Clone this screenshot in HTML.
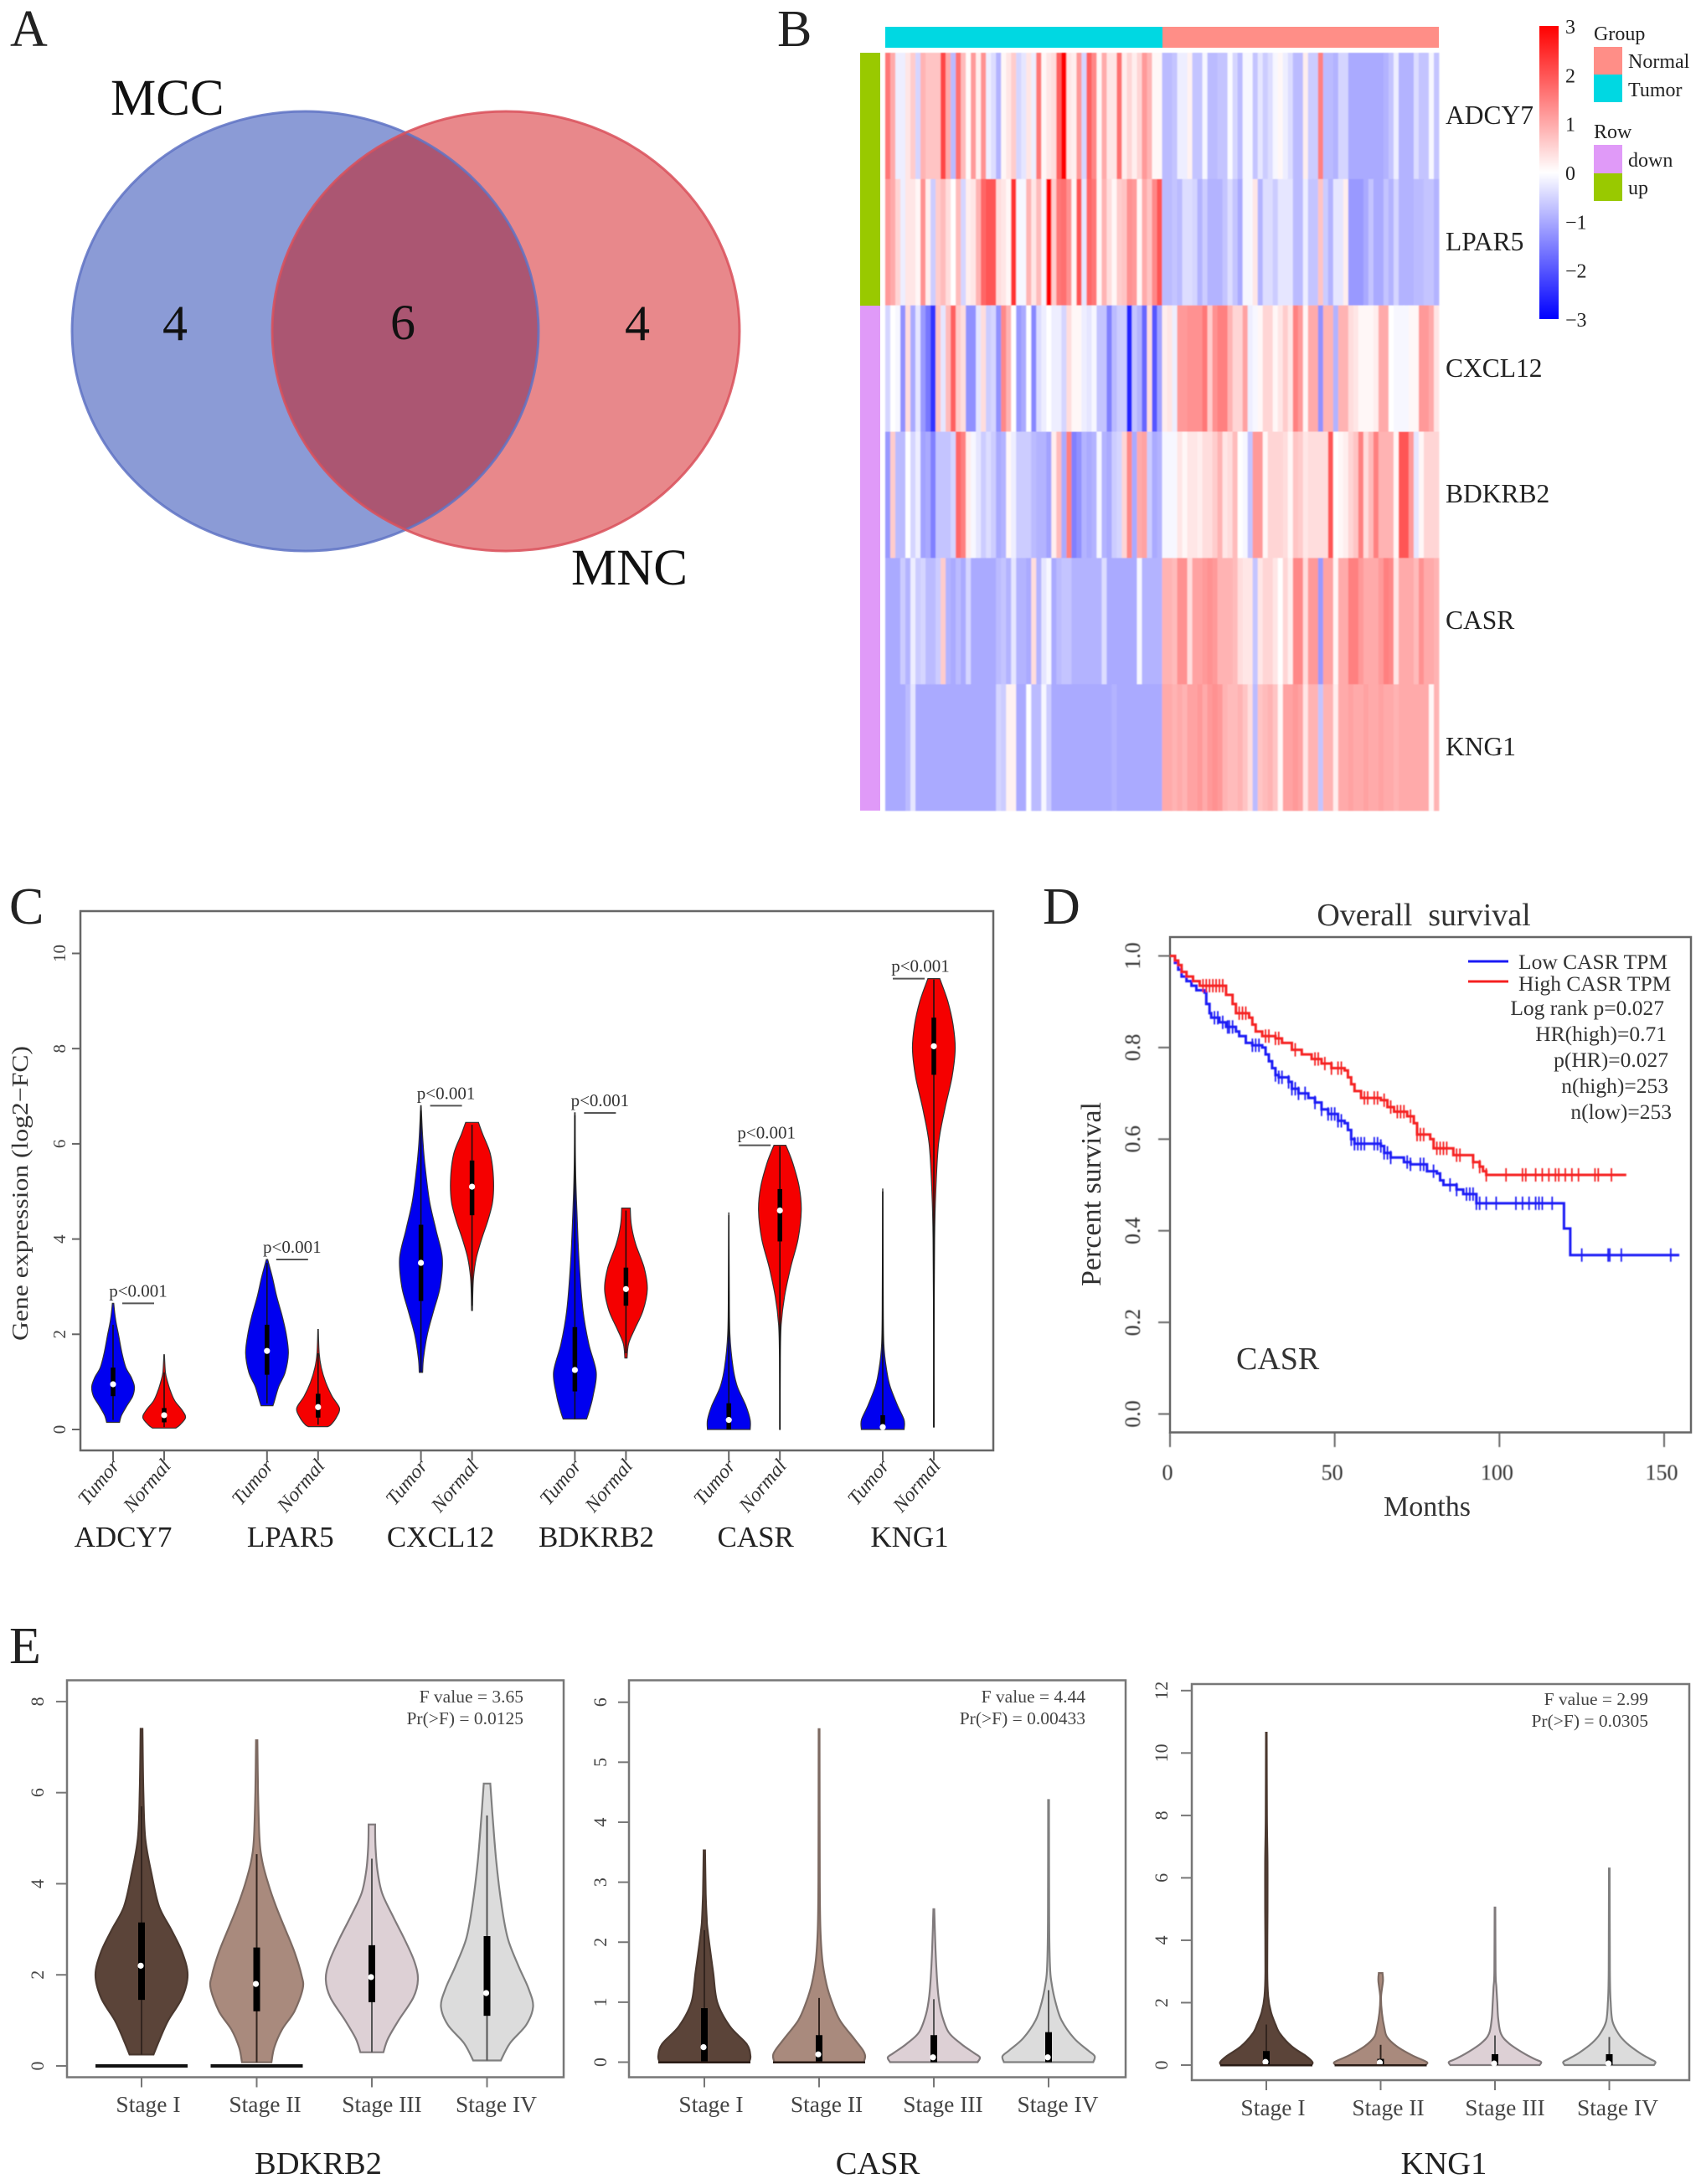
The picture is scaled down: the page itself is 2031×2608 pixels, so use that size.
<!DOCTYPE html>
<html lang="en">
<head>
<meta charset="utf-8">
<title>Multi-panel gene expression figure</title>
<style>
html,body{margin:0;padding:0;background:#fff;width:2031px;height:2608px;overflow:hidden}
svg{display:block;font-family:"Liberation Serif",serif}
text{fill:#222}
</style>
</head>
<body>
<svg id="fig" xmlns="http://www.w3.org/2000/svg" width="2031" height="2608" viewBox="0 0 2031 2608">
<defs>
<clipPath id="venn-left-clip"><ellipse cx="364.5" cy="395.5" rx="278.5" ry="262.5"/></clipPath>
<filter id="soft-blur" x="-1%" y="-1%" width="102%" height="102%"><feGaussianBlur stdDeviation="0.9 0.4"/></filter>
<filter id="line-blur" x="-2%" y="-2%" width="104%" height="104%"><feGaussianBlur stdDeviation="0.45"/></filter>
<linearGradient id="colorbar-gradient" x1="0" y1="0" x2="0" y2="1">
<stop offset="0" stop-color="#ff0000"/><stop offset="0.5" stop-color="#ffffff"/><stop offset="1" stop-color="#0000ff"/>
</linearGradient>
</defs>
<rect width="2031" height="2608" fill="#fff"/>

<!-- Panel letters -->
<text x="12" y="55" font-size="62">A</text>
<text x="928" y="55" font-size="62">B</text>
<text x="11" y="1103" font-size="62">C</text>
<text x="1245" y="1103" font-size="62">D</text>
<text x="11" y="1986" font-size="62">E</text>

<!-- Panel A Venn -->
<g>
<ellipse cx="364.5" cy="395.5" rx="278.5" ry="262.5" fill="#8b9bd6"/>
<ellipse cx="604" cy="395.5" rx="279" ry="262.5" fill="#e8888b"/>
<ellipse cx="604" cy="395.5" rx="279" ry="262.5" fill="#ab5672" clip-path="url(#venn-left-clip)"/>
<ellipse cx="364.5" cy="395.5" rx="278.5" ry="262.5" fill="none" stroke="#5f73c4" stroke-opacity="0.85" stroke-width="3"/>
<ellipse cx="604" cy="395.5" rx="279" ry="262.5" fill="none" stroke="#d9505a" stroke-opacity="0.85" stroke-width="3"/>
<text x="132" y="137" font-size="61" style="fill:#111">MCC</text>
<text x="682" y="698" font-size="61" style="fill:#111">MNC</text>
<text x="209" y="406" font-size="60" text-anchor="middle" style="fill:#111">4</text>
<text x="481" y="405" font-size="60" text-anchor="middle" style="fill:#111">6</text>
<text x="761" y="406" font-size="60" text-anchor="middle" style="fill:#111">4</text>
</g>

<!-- Panel B Heatmap -->
<g>
<rect x="1057" y="32" width="331" height="25" fill="#00d8e2"/>
<rect x="1388" y="32" width="330" height="25" fill="#ff8e87"/>
<rect x="1027" y="63" width="24" height="302" fill="#99c900"/>
<rect x="1027" y="365" width="24" height="603" fill="#e09af8"/>
<g id="heatmap-cells" filter="url(#soft-blur)"></g>
<text x="1726" y="148" font-size="31.5">ADCY7</text>
<text x="1726" y="299" font-size="31.5">LPAR5</text>
<text x="1726" y="450" font-size="31.5">CXCL12</text>
<text x="1726" y="600" font-size="31.5">BDKRB2</text>
<text x="1726" y="751" font-size="31.5">CASR</text>
<text x="1726" y="902" font-size="31.5">KNG1</text>
<rect x="1838" y="31" width="23" height="350" fill="url(#colorbar-gradient)"/>
<g id="colorbar-ticks"></g>
<text x="1903" y="48" font-size="24">Group</text>
<rect x="1903" y="56" width="34" height="33" fill="#ff8e87"/>
<rect x="1903" y="89" width="34" height="33" fill="#00d8e2"/>
<text x="1944" y="81" font-size="24">Normal</text>
<text x="1944" y="115" font-size="24">Tumor</text>
<text x="1903" y="165" font-size="24">Row</text>
<rect x="1903" y="173" width="34" height="34" fill="#e09af8"/>
<rect x="1903" y="207" width="34" height="33" fill="#99c900"/>
<text x="1944" y="199" font-size="24">down</text>
<text x="1944" y="232" font-size="24">up</text>
</g>

<!-- Panel C -->
<g>
<rect x="96" y="1088" width="1090" height="644" fill="none" stroke="#666" stroke-width="2.5"/>
<text transform="translate(33,1425) rotate(-90)" font-size="27" text-anchor="middle" textLength="352" lengthAdjust="spacingAndGlyphs" style="fill:#333">Gene expression (log2−FC)</text>
<g id="panel-c"></g>
</g>

<!-- Panel D -->
<g>
<text x="1700" y="1105" font-size="38" text-anchor="middle" style="fill:#333;white-space:pre">Overall  survival</text>
<rect x="1397" y="1119" width="622" height="591.5" fill="none" stroke="#666" stroke-width="2.5"/>
<text transform="translate(1314,1426) rotate(-90)" font-size="34" text-anchor="middle" style="fill:#333">Percent survival</text>
<text x="1704" y="1810" font-size="34" text-anchor="middle" style="fill:#333">Months</text>
<text x="1476" y="1635" font-size="38" style="fill:#333">CASR</text>
<g id="panel-d" filter="url(#line-blur)"></g>
<line x1="1753" x2="1801" y1="1148" y2="1148" stroke="#1a1af5" stroke-width="3"/>
<line x1="1753" x2="1801" y1="1172" y2="1172" stroke="#f52020" stroke-width="3"/>
<g font-size="25.5" style="fill:#333">
<text x="1813" y="1157" style="fill:#333">Low CASR TPM</text>
<text x="1813" y="1183" style="fill:#333">High CASR TPM</text>
<text x="1987" y="1212" text-anchor="end" style="fill:#333">Log rank p=0.027</text>
<text x="1990" y="1243" text-anchor="end" style="fill:#333">HR(high)=0.71</text>
<text x="1992" y="1274" text-anchor="end" style="fill:#333">p(HR)=0.027</text>
<text x="1992" y="1305" text-anchor="end" style="fill:#333">n(high)=253</text>
<text x="1996" y="1336" text-anchor="end" style="fill:#333">n(low)=253</text>
</g>
</g>

<!-- Panel E -->
<g>
<rect x="80" y="2006.5" width="593" height="474" fill="none" stroke="#777" stroke-width="2.5"/>
<rect x="751" y="2006.5" width="593" height="474" fill="none" stroke="#777" stroke-width="2.5"/>
<rect x="1423" y="2011" width="594" height="473" fill="none" stroke="#777" stroke-width="2.5"/>
<g id="panel-e"></g>
<g font-size="21.5" text-anchor="end">
<text x="625" y="2033" style="fill:#444">F value = 3.65</text>
<text x="625" y="2059" style="fill:#444">Pr(&gt;F) = 0.0125</text>
<text x="1296" y="2033" style="fill:#444">F value = 4.44</text>
<text x="1296" y="2059" style="fill:#444">Pr(&gt;F) = 0.00433</text>
<text x="1968" y="2036" style="fill:#444">F value = 2.99</text>
<text x="1968" y="2062" style="fill:#444">Pr(&gt;F) = 0.0305</text>
</g>
<g font-size="38.5" text-anchor="middle">
<text x="380" y="2596">BDKRB2</text>
<text x="1048" y="2596">CASR</text>
<text x="1724" y="2596">KNG1</text>
</g>
</g>

<script>
// ---------- Heatmap data (z-scores; 55 tumor columns then 55 normal columns) ----------
const hmAdcy7 = [1.6,1,-.2,-.2,.3,.6,-.5,.9,.7,.7,.7,2.2,1,-.8,1.7,.8,.05,1.2,.2,1.3,-.2,-.4,-.9,.1,.3,.6,-.5,-.3,.3,-.2,1.6,.1,.3,.4,1.9,3,.3,.2,1.2,-.5,1.9,1.4,.1,1,.3,.3,1.7,.2,.5,.2,.5,1.2,.9,.1,.1,
-.8,-.8,-.7,-.2,-.2,.15,-.7,-.7,-.1,-.8,-.8,-.7,-.7,-.05,-.5,-.8,-.1,-.1,-.7,-.3,-.6,-.4,-.1,.1,-.2,-.4,-.8,-.8,.2,-.6,-.6,1.5,-.8,-.8,-.9,-.5,-.5,-1,-1,-1,-1,-1,-1,-1,-.9,-.7,-.2,-.9,-.9,-.9,-.4,-.7,-.7,-.1,-.7];
const hmLpar5 = [1.2,1,.5,-.2,.3,.3,.1,1.3,.2,-.6,.6,.8,.4,0,.8,-.5,.2,.3,.9,1.8,2,2,.4,.3,.1,2.4,-.1,-.1,.9,.3,.8,-.1,3,.6,1.6,1.7,1.3,.1,2,-.3,1.8,1.6,.1,.9,.4,.1,.6,.7,1.3,1.2,.1,1,.7,1.4,2,
-.8,-.8,-.7,-.8,-.4,-.4,-.5,-.9,-.6,-.9,-.9,-.9,-.7,-.4,-.7,-1,-.1,-.1,.3,-.9,-.4,-.4,-.6,-.3,-.3,-.3,-.8,-.8,-.2,-.7,-.7,.7,-.6,-.9,-.3,-.3,.2,-1.2,-1.2,-1.2,-1,-.7,-1,-1,-.7,-.9,-.5,-.9,-.9,-.9,-.8,-.8,-.7,-.7,-.9];
const hmCxcl12 = [-.5,0,-.1,-1.3,.4,-1,-.3,-1.2,-1.6,-2.4,.7,-.3,.8,1.9,.6,.4,-1.3,-1.3,-.3,.4,-.6,-.5,-1.3,1.4,.9,0,-1.2,-1,0,-1.4,-.4,-.2,0,-.2,-.2,-.5,.4,.1,.1,-.2,-.3,-.1,-.7,-.7,-1.5,-.8,-.6,-.6,-2.6,-.7,-.9,-1.8,.4,-2,-1.1,
.2,.3,-.2,1.2,1.2,1.3,1.3,1.3,1.6,.6,1.3,1.5,1.5,.9,.5,.5,1.1,-.2,-.1,.1,.5,.5,.1,.3,.6,.3,1.5,1.2,.1,1,1,-1.3,.9,.9,-.9,.9,.9,.4,.3,.1,.1,.1,.2,1,1,0,-.1,-.1,-.1,.1,.1,1.2,1.2,1,.3];
const hmBdkrb2 = [-1.2,.6,-.8,-.8,0,-.5,-.2,-1.1,-1,-1.5,-.7,-.7,-.7,-.5,1.8,1.5,.2,-.1,-.3,-.6,-.4,-.6,-1,-.9,.1,-.2,-.6,-.6,-.6,-.8,-.9,-.9,-1.1,.2,.8,-1,1.5,-1.5,-1.3,-.9,-1,-.9,-.1,-.9,-1,-.6,-.5,.5,1.4,-1,1,1.1,-.6,-1,-.9,
-.1,-.1,-.1,.3,.1,.3,.3,.2,.4,.4,.6,.9,.3,.4,.8,0,-.1,-.7,1.2,1.2,.1,.5,.5,.5,.4,.1,.7,.6,.3,.4,.4,.4,.4,2,0,.1,.2,.5,.7,1.5,.4,.8,1.5,.9,.9,.9,.1,2,2,1.2,-.3,.1,.5,.5,.5];
const hmCasr = [-1,-1,-1,-.6,-.9,-.2,-.6,-.5,-.8,-.8,-.6,.6,-.9,-1,-.8,-1,-.5,-1,-1,-1,-1,-1,-.8,-.7,-.9,-.3,-.9,-.9,-1,.4,-.9,-.3,-.1,-1,-.8,-.7,-.7,-.9,-.9,-.9,-.9,-.9,-.9,-.4,-1,-1,-1,-1,-1,-1,-.1,-.9,-.9,-.9,-.9,
.9,.9,.8,1.3,1.3,.4,1.1,1.1,1.2,1.3,1.2,.9,.9,.9,.8,.4,.3,.3,-.7,.3,.5,.5,.3,0,.5,.2,1.4,1.4,.4,1.2,1.2,-1.2,1.1,1.1,.1,1,1,1.5,1.5,1.2,1,1,1,1.2,1.5,1.4,.3,1,1,1,.8,1.3,1,1,.9];
const hmKng1 = [-1,-1,-1,-1,-.8,-.3,-1,-1,-1,-1,-1,-1,-1,-1,-1,-1,-1,-1,-1,-1,-1,-1,-.5,-.6,.15,.15,-1,-1,0,-.8,-.8,-.1,-.6,-1,-1,-1,-1,-1,-1,-1,-1,-1,-1,-1,-1,-.9,-1,-1,-1,-1,-1,-1,-1,-1,-1,
1,1,.9,1,.9,1.1,1.1,1.2,1,1.2,1.3,1.2,.9,.8,.8,.9,.7,.4,-.8,.7,.8,.9,.7,.1,1.1,1.1,1.2,1.1,.3,.9,.9,-.7,.9,.9,.2,1,1,1.1,1,1,1.1,1,1,1.1,1,1,.9,1,1,1,1,1,1,.1,.9];
const colorbarTicks = [3,2,1,0,-1,-2,-3];

// ---------- Panel C data ----------
const cGenes = ["ADCY7","LPAR5","CXCL12","BDKRB2","CASR","KNG1"];
const cGroups = ["Tumor","Normal"];
const cYTicks = [0,2,4,6,8,10];
const cGeneLabelOffsets = [12,28,23.5,25.6,32,32];
const cPLabelValues = [2.65,3.57,6.8,6.65,5.97,9.47];
const cPLabelShift = [0,0,0,0,1,1];
const cViolinProfiles = [
 [[2.65,.03],[2.3,.12],[2,.25],[1.6,.42],[1.3,.6],[1.1,.85],[.9,1],[.7,.92],[.5,.65],[.3,.4],[.15,.3]],
 [[1.57,.01],[1.2,.06],[1,.16],[.8,.3],[.6,.5],[.4,.85],[.25,1],[.1,.75],[.03,.55]],
 [[3.57,.03],[3.2,.25],[2.8,.45],[2.4,.7],[2,.9],[1.6,1],[1.2,.85],[.9,.55],[.6,.35],[.5,.28]],
 [[2.1,.01],[1.6,.05],[1.3,.15],[1,.35],[.7,.65],[.45,1],[.25,.85],[.1,.6],[.06,.45]],
 [[6.8,.01],[6,.1],[5.5,.2],[4.8,.4],[4.2,.7],[3.6,1],[3,.9],[2.5,.6],[2,.3],[1.5,.12],[1.2,.08]],
 [[6.45,.3],[6.2,.5],[5.8,.85],[5.3,1],[4.8,.97],[4.4,.75],[4,.45],[3.6,.2],[3.2,.07],[2.8,.03],[2.5,.02]],
 [[6.65,.01],[5.5,.03],[4.5,.1],[3.5,.2],[2.5,.38],[1.8,.65],[1.2,1],[.7,.85],[.4,.68],[.22,.55]],
 [[4.65,.2],[4.3,.25],[3.9,.45],[3.4,.85],[2.95,1],[2.5,.8],[2.1,.4],[1.8,.12],[1.5,.05]],
 [[4.55,.005],[3,.02],[2,.05],[1.3,.2],[.9,.4],[.5,.8],[.2,1],[0,1]],
 [[5.97,.28],[5.6,.6],[5.1,.9],[4.6,1],[4,.85],[3.4,.5],[2.8,.22],[2.2,.06],[1.5,.02],[0,.01]],
 [[5.05,.005],[3,.02],[1.8,.05],[1.2,.2],[.9,.35],[.5,.7],[.2,1],[0,1]],
 [[9.47,.28],[9,.65],[8.5,.9],[8,1],[7.4,.85],[6.7,.5],[6,.22],[5,.09],[4,.035],[2,.012],[.05,.01]]
];
const cMedians = [.95,.3,1.65,.47,3.5,5.1,1.25,2.95,.2,4.6,.05,8.05];
const cQ1 = [.7,.15,1.15,.25,2.7,4.5,.8,2.6,0,3.95,0,7.45];
const cQ3 = [1.3,.45,2.2,.75,4.3,5.65,2.15,3.4,.55,5.05,.3,8.65];
const cWhiskerLow = [.2,.05,.55,.1,1.2,2.6,.22,1.6,0,0,0,.05];
const cWhiskerHigh = [2.2,1.2,3.5,1.6,6.7,6.4,6.6,4.6,4.5,5.95,5,9.45];

// ---------- Panel D data ----------
const dXTicks = [0,50,100,150];
const dYTicks = [0,.2,.4,.6,.8,1];
const lowMonths = [0,1.5,2.5,3.5,5,6.5,8,10.5,11,12,12.5,15,17,20,21,23,25,28,29,30,31,32,33,36,37,39,42,44,46,48,51,53,54,55,56,63,64,65,67,71,73,78,81,82,83,87,89,93,119.6,121.5];
const lowSurvival = [1,.985,.97,.955,.945,.935,.925,.92,.895,.875,.865,.855,.845,.835,.825,.81,.805,.8,.785,.77,.755,.74,.735,.725,.71,.7,.69,.68,.665,.655,.64,.635,.62,.6,.59,.59,.585,.57,.56,.55,.545,.53,.525,.51,.5,.49,.48,.46,.405,.347];
const lowEndMonth = 154.6;
const lowCensored = [13.5,14.5,16,17.5,18,19,25,26,27,32,33,34,36,37,38,39,41,44,46,48,49,50,51,52,55,56,57,58,59,62,63,64,65,66,67,72,73,76,77,80,85,87,90,91,92,93,94,96,99,105,107,109,111,112,113,116,125,133,133.5,137,152];
const highMonths = [0,1.5,2.5,3.5,5,7,9,17,19,20,24,25,26,28,32,34,37,40,43,46,49,53,54,55,56,58,64,66,68,72,74,75,79,80,86,92,94,95,96];
const highSurvival = [1,.99,.98,.965,.955,.945,.935,.915,.895,.875,.865,.85,.835,.825,.82,.81,.795,.785,.775,.765,.755,.75,.735,.72,.705,.69,.685,.67,.66,.65,.635,.61,.6,.58,.565,.55,.54,.53,.522];
const highEndMonth = 138.5;
const highCensored = [10,11,12,13,14,15,16,21,22,23,29,30,32,33,38,44,45,47,49,51,52,59,60,62,63,65,67,69,70,71,73,75,76,77,81,82,83,84,87,88,92,94,96,102,107,108,111,113,115,117,118,120,122,124,129,130,134];

// ---------- Panel E data ----------
const eStages = ["Stage I","Stage II","Stage III","Stage IV"];
const eFills = ["#5b4439","#a98a7d","#ddd0d5","#dcdcdc"];
const eStrokes = ["#4a382f","#7d6a62","#807a7c","#808080"];
const bdkrb2YTicks = [0,2,4,6,8];
const bdkrb2Profiles = [
 [[7.4,.02],[6,.04],[5,.08],[4.2,.22],[3.5,.38],[3,.64],[2.5,.88],[2,1],[1.5,.88],[1,.58],[.6,.4],[.25,.26]],
 [[7.15,.015],[6,.03],[5,.06],[4.5,.12],[4,.25],[3.5,.42],[3,.62],[2.5,.82],[2,.97],[1.7,1],[1.2,.82],[.8,.55],[.4,.38],[.08,.32]],
 [[5.3,.07],[4.8,.08],[4.3,.12],[3.8,.22],[3.3,.45],[2.8,.7],[2.3,.92],[1.9,1],[1.5,.9],[1,.58],[.6,.35],[.3,.25]],
 [[6.2,.07],[5.5,.12],[4.5,.2],[3.5,.32],[2.8,.45],[2.2,.68],[1.7,.9],[1.3,1],[.9,.85],[.5,.5],[.12,.3]]
];
const bdkrb2Medians = [2.2,1.8,1.95,1.6];
const bdkrb2Q1 = [1.45,1.2,1.4,1.1];
const bdkrb2Q3 = [3.15,2.6,2.65,2.85];
const bdkrb2WhiskerLow = [.25,.08,.3,.12];
const bdkrb2WhiskerHigh = [5.7,4.65,4.55,5.5];
const bdkrb2ZeroBars = [1,1,0,0];
const casrYTicks = [0,1,2,3,4,5,6];
const casrProfiles = [
 [[3.53,.015],[2.8,.03],[2.4,.05],[2.2,.07],[1.5,.19],[1,.28],[.6,.55],[.3,.92],[.1,1],[0,.97]],
 [[5.55,.01],[3,.015],[2.2,.03],[1.7,.07],[1.3,.16],[1,.28],[.7,.45],[.4,.75],[.2,.95],[.1,1],[0,.97]],
 [[2.55,.01],[2,.03],[1.5,.06],[1.1,.1],[.8,.17],[.5,.32],[.3,.6],[.15,.88],[.08,1],[0,.95]],
 [[4.37,.01],[2.5,.012],[1.6,.03],[1.3,.07],[1,.15],[.7,.28],[.4,.55],[.2,.85],[.1,1],[0,.97]]
];
const casrMedians = [.25,.13,.08,.08];
const casrQ1 = [0,0,0,0];
const casrQ3 = [.9,.45,.45,.5];
const casrWhiskerLow = [0,0,0,0];
const casrWhiskerHigh = [2.2,1.07,1.05,1.2];
const casrZeroBars = [1,1,0,0];
const kng1YTicks = [0,2,4,6,8,10,12];
const kng1Profiles = [
 [[10.65,.008],[8,.012],[6.5,.025],[5,.025],[3,.02],[2.2,.04],[1.7,.1],[1.3,.2],[1,.3],[.6,.55],[.3,.85],[.1,1],[0,.98]],
 [[2.95,.04],[2.7,.05],[2.2,.01],[1.7,.025],[1.2,.08],[.9,.14],[.6,.35],[.3,.7],[.1,1],[0,.97]],
 [[5.05,.008],[3,.012],[2.5,.03],[2,.05],[1.5,.07],[1,.13],[.7,.3],[.4,.6],[.2,.85],[.1,1],[0,.97]],
 [[6.3,.008],[3,.012],[2,.03],[1.4,.07],[1,.2],[.7,.38],[.4,.65],[.2,.88],[.1,1],[0,.97]]
];
const kng1Medians = [.1,.08,.05,.05];
const kng1Q1 = [0,0,0,0];
const kng1Q3 = [.45,.2,.35,.35];
const kng1WhiskerLow = [0,0,0,0];
const kng1WhiskerHigh = [1.3,.65,.95,.9];
const kng1ZeroBars = [1,1,0,0];

// ---------- Helpers ----------
const NS = "http://www.w3.org/2000/svg";
function make(tag, attrs, parent) {
  const node = document.createElementNS(NS, tag);
  for (const k in attrs) node.setAttribute(k, attrs[k]);
  parent.appendChild(node);
  return node;
}
function linear(d0, r0, d1, r1) {
  return v => r0 + (v - d0) * (r1 - r0) / (d1 - d0);
}
function zColor(v) {
  const t = Math.max(-3, Math.min(3, v)) / 3;
  const m = Math.round(255 * (1 - Math.abs(t)));
  return t >= 0 ? `rgb(255,${m},${m})` : `rgb(${m},${m},255)`;
}
function smoothThrough(pts) {
  let d = "";
  for (let i = 0; i < pts.length - 1; i++) {
    const p0 = pts[Math.max(i - 1, 0)], p1 = pts[i], p2 = pts[i + 1], p3 = pts[Math.min(i + 2, pts.length - 1)];
    const c1x = p1[0] + (p2[0] - p0[0]) / 6, c1y = p1[1] + (p2[1] - p0[1]) / 6;
    const c2x = p2[0] - (p3[0] - p1[0]) / 6, c2y = p2[1] - (p3[1] - p1[1]) / 6;
    d += `C${c1x.toFixed(1)} ${c1y.toFixed(1)} ${c2x.toFixed(1)} ${c2y.toFixed(1)} ${p2[0].toFixed(1)} ${p2[1].toFixed(1)}`;
  }
  return d;
}
function violinPath(profile, cx, halfWidth, yScale) {
  const right = profile.map(p => [cx + p[1] * halfWidth, yScale(p[0])]);
  const left = profile.map(p => [cx - p[1] * halfWidth, yScale(p[0])]).reverse();
  return `M${right[0][0].toFixed(1)} ${right[0][1].toFixed(1)}` + smoothThrough(right) +
    `L${left[0][0].toFixed(1)} ${left[0][1].toFixed(1)}` + smoothThrough(left) + "Z";
}
function drawViolin(parent, opt) {
  const g = make("g", {}, parent);
  
  
  const body = make("path", {d: violinPath(opt.profile, opt.x, opt.half, opt.y), fill: opt.fill, stroke: opt.stroke, "stroke-width": opt.outline}, g);
  
  
  const whisker = make("line", {x1: opt.x, x2: opt.x, y1: opt.y(opt.wLow), y2: opt.y(opt.wHigh), stroke: opt.whiskerColor, "stroke-width": opt.whiskerWidth}, g);
  
  
  const box = make("rect", {x: opt.x - opt.boxWidth / 2, width: opt.boxWidth, y: opt.y(opt.q3), height: opt.y(opt.q1) - opt.y(opt.q3), fill: "#000"}, g);
  
  
  const dot = make("circle", {cx: opt.x + (opt.dotShift || 0), cy: opt.y(opt.median), r: opt.dot, fill: "#fff"}, g);
  
  
}

// ---------- Heatmap ----------
const hmRows = [hmAdcy7, hmLpar5, hmCxcl12, hmBdkrb2, hmCasr, hmKng1];
const hmGroup = document.getElementById("heatmap-cells");
const hmX = linear(0, 1057, 110, 1718);
const hmY = linear(0, 63, 6, 968);
hmRows.forEach((row, r) => {
  row.forEach((v, c) => {
    const cell = make("rect", {x: hmX(c).toFixed(2), y: hmY(r).toFixed(2), width: (hmX(c + 1) - hmX(c) + .4).toFixed(2), height: (hmY(r + 1) - hmY(r) + .4).toFixed(2), fill: zColor(v)}, hmGroup);
    
    
  });
});
const cbGroup = document.getElementById("colorbar-ticks");
const cbY = linear(3, 32, -3, 382);
colorbarTicks.forEach(t => {
  const label = make("text", {x: 1869, y: cbY(t) + 8, "font-size": 24}, cbGroup);
  
  
  label.textContent = t < 0 ? "−" + Math.abs(t) : String(t);
});

// ---------- Panel C ----------
const cRoot = document.getElementById("panel-c");
const cY = linear(0, 1707, 10, 1138.5);
const cX = (gene, group) => 135 + gene * 183.8 + group * 61;
cYTicks.forEach(t => {
  const tick = make("line", {x1: 86, x2: 96, y1: cY(t), y2: cY(t), stroke: "#666", "stroke-width": 2}, cRoot);
  
  
  const label = make("text", {transform: `translate(78,${cY(t)}) rotate(-90)`, "font-size": 21, "text-anchor": "middle", style: "fill:#444"}, cRoot);
  
  
  label.textContent = t;
});
cGenes.forEach((gene, gi) => {
  cGroups.forEach((group, si) => {
    const idx = gi * 2 + si;
    const x = cX(gi, si);
    drawViolin(cRoot, {
      profile: cViolinProfiles[idx], x: x, half: 25.5, y: cY,
      fill: si === 0 ? "#0000f0" : "#f50000", stroke: "#333", outline: 1.2,
      wLow: cWhiskerLow[idx], wHigh: cWhiskerHigh[idx], whiskerColor: "#111", whiskerWidth: 1.5,
      q1: cQ1[idx], q3: cQ3[idx], boxWidth: 5.5, median: cMedians[idx], dot: 3.6
    });
    const tick = make("line", {x1: x, x2: x, y1: 1732, y2: 1744, stroke: "#666", "stroke-width": 2}, cRoot);
    
    
    const label = make("text", {transform: `translate(${x + 9},${1751}) rotate(-50)`, "font-size": 24, "font-style": "italic", "text-anchor": "end", style: "fill:#333"}, cRoot);
    
    
    label.textContent = group;
  });
  const topY = cY(cPLabelValues[gi]);
  const shift = cPLabelShift[gi];
  const barStart = cX(gi, 0) + (shift ? 12 : 11);
  const bar = make("line", {x1: barStart, x2: barStart + 38, y1: topY, y2: topY, stroke: "#555", "stroke-width": 2}, cRoot);
  
  
  const pText = make("text", {x: barStart + (shift ? 33 : 19), y: topY - 8, "font-size": 21, "text-anchor": "middle", style: "fill:#333"}, cRoot);
  
  
  pText.textContent = "p<0.001";
  const geneLabel = make("text", {x: cX(gi, 0) + cGeneLabelOffsets[gi], y: 1847, "font-size": 35, "text-anchor": "middle"}, cRoot);
  
  
  geneLabel.textContent = gene;
});

// ---------- Panel D ----------
const dRoot = document.getElementById("panel-d");
const dX = linear(0, 1397, 150, 1987);
const dY = linear(0, 1688.5, 1, 1141.5);
dXTicks.forEach(t => {
  const tick = make("line", {x1: dX(t), x2: dX(t), y1: 1710.5, y2: 1728, stroke: "#666", "stroke-width": 2}, dRoot);
  
  
  const label = make("text", {x: dX(t) - 3, y: 1767, "font-size": 26, "text-anchor": "middle", style: "fill:#333"}, dRoot);
  
  
  label.textContent = t;
});
dYTicks.forEach(t => {
  const tick = make("line", {x1: 1383, x2: 1397, y1: dY(t), y2: dY(t), stroke: "#666", "stroke-width": 2}, dRoot);
  
  
  const label = make("text", {transform: `translate(1361,${dY(t)}) rotate(-90)`, "font-size": 26, "text-anchor": "middle", style: "fill:#333"}, dRoot);
  
  
  label.textContent = t.toFixed(1);
});
function stepValue(months, survival, m) {
  let s = survival[0];
  for (let i = 0; i < months.length; i++) if (months[i] <= m) s = survival[i];
  return s;
}
function drawCurve(months, survival, endMonth, censored, color, name) {
  let d = `M${dX(months[0])} ${dY(survival[0])}`;
  for (let i = 1; i < months.length; i++) {
    d += `H${dX(months[i]).toFixed(1)}V${dY(survival[i]).toFixed(1)}`;
  }
  d += `H${dX(endMonth).toFixed(1)}`;
  const path = make("path", {d: d, fill: "none", stroke: color, "stroke-width": 3}, dRoot);
  
  
  censored.forEach(m => {
    const y = dY(stepValue(months, survival, m));
    const mark = make("line", {x1: dX(m), x2: dX(m), y1: y - 8, y2: y + 8, stroke: color, "stroke-width": 1.8}, dRoot);
    
    
  });
}
drawCurve(lowMonths, lowSurvival, lowEndMonth, lowCensored, "#1a1af5", "low-casr");
drawCurve(highMonths, highSurvival, highEndMonth, highCensored, "#f52020", "high-casr");

// ---------- Panel E ----------
const eRoot = document.getElementById("panel-e");
function drawStagePanel(cfg) {
  const y = linear(0, cfg.y0, cfg.topValue, cfg.yTop);
  cfg.ticks.forEach(t => {
    const tick = make("line", {x1: cfg.tickLeft, x2: cfg.tickLeft + 13, y1: y(t), y2: y(t), stroke: "#777", "stroke-width": 2}, eRoot);
    
    
    const label = make("text", {transform: `translate(${cfg.labelX},${y(t)}) rotate(-90)`, "font-size": 22, "text-anchor": "middle", style: "fill:#444"}, eRoot);
    
    
    label.textContent = t;
  });
  eStages.forEach((stage, i) => {
    const x = cfg.x0 + i * cfg.step;
    if (cfg.zeroBars[i] && cfg.thickZero) {
      const bar = make("rect", {x: x - 55, width: 110, y: y(0) - 2, height: 4, fill: "#111"}, eRoot);
      
      
    }
    drawViolin(eRoot, {
      profile: cfg.profiles[i], x: x, half: 55, y: y,
      fill: eFills[i], stroke: eStrokes[i], outline: 2.2,
      wLow: cfg.wLow[i], wHigh: cfg.wHigh[i], whiskerColor: i < 2 ? "#33251f" : "#555", whiskerWidth: 2,
      q1: cfg.q1[i], q3: cfg.q3[i], boxWidth: 8, median: cfg.medians[i], dot: 3.6, dotShift: -1
    });
    if (cfg.zeroBars[i] && !cfg.thickZero) {
      const bar = make("rect", {x: x - 55, width: 110, y: y(0) - 1, height: 2.5, fill: "#2a1c16"}, eRoot);
      
      
    }
    const tick = make("line", {x1: x, x2: x, y1: cfg.boxBottom, y2: cfg.boxBottom + 12, stroke: "#777", "stroke-width": 2}, eRoot);
    
    
    const label = make("text", {x: x + cfg.labelShift[i], y: cfg.stageY, "font-size": 27.5, "text-anchor": "middle", style: "fill:#444"}, eRoot);
    
    
    label.textContent = stage;
  });
}
drawStagePanel({profiles: bdkrb2Profiles, medians: bdkrb2Medians, q1: bdkrb2Q1, q3: bdkrb2Q3, wLow: bdkrb2WhiskerLow, wHigh: bdkrb2WhiskerHigh, zeroBars: bdkrb2ZeroBars, thickZero: true, ticks: bdkrb2YTicks, y0: 2467, topValue: 8, yTop: 2031.9, tickLeft: 67, labelX: 52, x0: 169, step: 137.5, boxBottom: 2480.5, stageY: 2522, labelShift: [8,10,12,11]});
drawStagePanel({profiles: casrProfiles, medians: casrMedians, q1: casrQ1, q3: casrQ3, wLow: casrWhiskerLow, wHigh: casrWhiskerHigh, zeroBars: casrZeroBars, thickZero: false, ticks: casrYTicks, y0: 2462.5, topValue: 6, yTop: 2032.7, tickLeft: 738, labelX: 724, x0: 841, step: 137, boxBottom: 2480.5, stageY: 2522, labelShift: [8,9,11,11]});
drawStagePanel({profiles: kng1Profiles, medians: kng1Medians, q1: kng1Q1, q3: kng1Q3, wLow: kng1WhiskerLow, wHigh: kng1WhiskerHigh, zeroBars: kng1ZeroBars, thickZero: false, ticks: kng1YTicks, y0: 2466, topValue: 12, yTop: 2018.8, tickLeft: 1410, labelX: 1394, x0: 1512, step: 136.5, boxBottom: 2484, stageY: 2526, labelShift: [8,9,12,10]});
</script>
</svg>
</body>
</html>
